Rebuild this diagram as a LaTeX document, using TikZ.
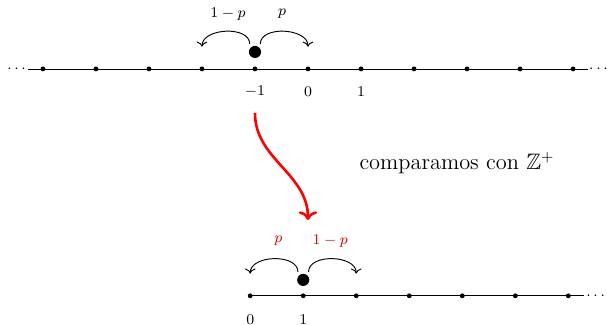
\documentclass[tikz,border=0pt]{standalone}
\usepackage{amssymb}
\usetikzlibrary{arrows.meta, calc}
\tikzset{
  tick/.style={circle, fill=black, inner sep=0pt, minimum size=2.6pt},
  walker/.style={circle, fill=black, inner sep=0pt, minimum size=6.5pt},
  hop/.style={->, line width=0.5pt},
  plabel/.style={font=\footnotesize},
  nlabel/.style={font=\footnotesize},
  compare/.style={->, red, line width=1.4pt}
}

\begin{document}
\begin{tikzpicture}
\useasboundingbox (-5.81,-4.83) rectangle (5.64,1.30);

% ── Z ──────────────────────────────────────────────
\coordinate (zl) at (-5.28,0);
\coordinate (zr) at (5.28,0);
\draw (zl) -- (zr);
\foreach \i in {-5,...,5} \node[tick] (z\i) at (\i,0) {};
\node[nlabel, left, inner sep=1pt]  (zdl) at (zl) {$\cdots$};
\node[nlabel, right, inner sep=0.5pt] (zdr) at (zr) {$\cdots$};
\node[nlabel] (lm1) at (-1,-0.43) {$-1$};
\node[nlabel] (l0)  at ( 0,-0.43) {$0$};
\node[nlabel] (l1)  at ( 1,-0.43) {$1$};

% walker and its jumps
\node[walker] (wz) at (-1,0.32) {};
\coordinate (zjl) at (-2,0.42);
\coordinate (zjr) at ( 0,0.42);
\draw[hop] ($(wz)+(-0.1,0.15)$) to[out=90, in=90] (zjl);
\draw[hop] ($(wz)+( 0.1,0.15)$) to[out=90, in=90] (zjr);
\node[plabel] (qz) at (-1.51,1.04) {$1-p$};
\node[plabel] (pz) at (-0.49,1.04) {$p$};

% ── comparison ──────────────────────────────────────────────
\coordinate (cs) at (-1,-0.83);
\coordinate (ce) at ( 0,-2.85);
\draw[compare] (cs) to[out=-90, in=90] (ce);
\node[font=\large] (ctext) at (2.81,-1.77) {comparamos con $\mathbb{Z}^+$};

% ── Z+ ──────────────────────────────────────────────
\begin{scope}[shift={(-1.09,-4.28)}]
\coordinate (nr) at (6.3,0);
\draw (0,0) -- (nr);
\foreach \i in {0,...,6} \node[tick] (n\i) at (\i,0) {};
\node[nlabel, right, inner sep=1pt] (ndr) at (nr) {$\cdots$};
\node[nlabel] (m0) at (0,-0.45) {$0$};
\node[nlabel] (m1) at (1,-0.45) {$1$};

\node[walker] (wn) at (1,0.3) {};
\coordinate (njl) at (0,0.42);
\coordinate (njr) at (2,0.42);
\draw[hop] ($(wn)+(-0.1,0.15)$) to[out=90, in=90] (njl);
\draw[hop] ($(wn)+( 0.1,0.15)$) to[out=90, in=90] (njr);
\node[plabel, red!85!black] (pn) at (0.53,1.04) {$p$};
\node[plabel, red!85!black] (qn) at (1.51,1.04) {$1-p$};
\end{scope}

\end{tikzpicture}
\end{document}
